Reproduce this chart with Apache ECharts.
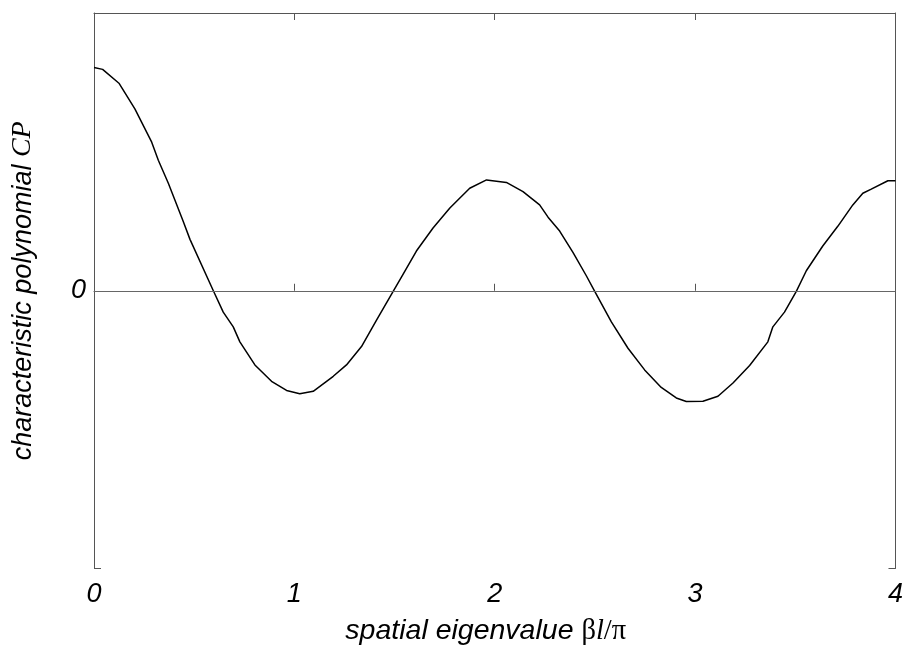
<!DOCTYPE html>
<html>
<head>
<meta charset="utf-8">
<script src="https://cdn.jsdelivr.net/npm/echarts@6/dist/echarts.min.js"></script>
<style>
html,body{margin:0;padding:0;background:#fff;}
#chart{width:906px;height:651px;}
</style>
</head>
<body>
<div id="chart"></div>
<script>
// x: spatial eigenvalue βl/π ; y: characteristic polynomial CP (normalised units)
const xValues = [0, 0.043, 0.126, 0.204, 0.288, 0.321, 0.371, 0.445, 0.479, 0.595, 0.645, 0.695, 0.728, 0.803, 0.886, 0.961, 1.027, 1.094, 1.194, 1.260, 1.335, 1.410, 1.493, 1.543, 1.609, 1.692, 1.776, 1.875, 1.959, 2.058, 2.141, 2.224, 2.266, 2.324, 2.391, 2.457, 2.499, 2.582, 2.665, 2.748, 2.831, 2.906, 2.956, 3.039, 3.114, 3.189, 3.272, 3.363, 3.388, 3.446, 3.505, 3.555, 3.637, 3.712, 3.787, 3.837, 3.879, 3.962, 4.0];
const cpValues = [0.804, 0.797, 0.746, 0.655, 0.535, 0.470, 0.387, 0.250, 0.185, 0.001, -0.077, -0.130, -0.184, -0.267, -0.326, -0.359, -0.371, -0.362, -0.308, -0.267, -0.201, -0.106, -0.002, 0.060, 0.143, 0.226, 0.298, 0.369, 0.399, 0.390, 0.357, 0.309, 0.265, 0.215, 0.137, 0.054, -0.002, -0.112, -0.207, -0.285, -0.348, -0.386, -0.399, -0.398, -0.380, -0.332, -0.269, -0.184, -0.130, -0.077, -0.002, 0.072, 0.161, 0.232, 0.309, 0.351, 0.366, 0.396, 0.396];
const xTickLabels = ['0', '1', '2', '3', '4'];
const yTickLabels = { '0': '0' };

const sans = '"Liberation Sans", Arial, sans-serif';
const serif = '"Liberation Serif", "DejaVu Serif", serif';
const frame = '#555';
const FS = 27;
const NFS = 28.5;

const richX = {
  s: { fontFamily: sans, fontStyle: 'italic', fontSize: NFS, color: '#000', lineHeight: 32 },
  m: { fontFamily: serif, fontStyle: 'normal', fontSize: NFS, color: '#000', lineHeight: 32 },
  mi: { fontFamily: serif, fontStyle: 'italic', fontSize: NFS, color: '#000', lineHeight: 32 }
};
const richY = {
  s: { fontFamily: sans, fontStyle: 'italic', fontSize: FS, color: '#000', lineHeight: 32 },
  mi: { fontFamily: serif, fontStyle: 'italic', fontSize: FS + 1, color: '#000', lineHeight: 32 }
};

const chart = echarts.init(document.getElementById('chart'), null, { renderer: 'canvas' });
chart.setOption({
  animation: false,
  backgroundColor: '#fff',
  grid: { left: 94, right: 10, top: 13, bottom: 77, containLabel: false },
  xAxis: [
    {
      type: 'value', position: 'bottom', min: 0, max: 4, interval: 1,
      name: '{s|spatial eigenvalue }{m|β}{mi|l}{m|/π}',
      nameLocation: 'middle', nameGap: 47,
      nameTextStyle: { rich: richX, padding: [0, 18, 0, 0] },
      axisLine: { show: true, lineStyle: { color: frame, width: 1 } },
      axisTick: { show: true, inside: true, length: 7, lineStyle: { color: frame } },
      axisLabel: {
        show: true, margin: 12, fontFamily: sans, fontStyle: 'italic', fontSize: FS, color: '#000',
        formatter: v => xTickLabels[Math.round(v)] ?? ''
      },
      splitLine: { show: false }
    },
    {
      type: 'value', position: 'top', min: 0, max: 4, interval: 1,
      axisLine: { show: true, onZero: false, lineStyle: { color: frame, width: 1 } },
      axisTick: { show: true, inside: true, length: 7, lineStyle: { color: frame } },
      axisLabel: { show: false },
      splitLine: { show: false }
    }
  ],
  yAxis: [
    {
      type: 'value', position: 'left', min: -1, max: 1, interval: 1,
      name: '{s|characteristic polynomial }{mi|CP}',
      nameLocation: 'middle', nameGap: 55,
      nameTextStyle: { rich: richY },
      axisLine: { show: true, onZero: false, lineStyle: { color: frame, width: 1 } },
      axisTick: { show: true, inside: true, length: 7, lineStyle: { color: frame } },
      axisLabel: {
        show: true, margin: 8, fontFamily: sans, fontStyle: 'italic', fontSize: FS, color: '#000',
        formatter: v => yTickLabels[String(v)] ?? ''
      },
      splitLine: { show: false }
    },
    {
      type: 'value', position: 'right', min: -1, max: 1, interval: 1,
      axisLine: { show: true, onZero: false, lineStyle: { color: frame, width: 1 } },
      axisTick: { show: true, inside: true, length: 7, lineStyle: { color: frame } },
      axisLabel: { show: false },
      splitLine: { show: false }
    }
  ],
  series: [
    {
      type: 'line',
      xAxisIndex: 0, yAxisIndex: 0,
      data: xValues.map((x, i) => [x, cpValues[i]]),
      showSymbol: false, symbol: 'none', smooth: false,
      lineStyle: { color: '#000', width: 1.5 },
      markLine: {
        silent: true, symbol: ['none', 'none'],
        label: { show: false },
        lineStyle: { color: '#666', width: 1, type: 'solid' },
        data: [{ yAxis: 0 }]
      },
      z: 3
    }
  ]
});
</script>
</body>
</html>
